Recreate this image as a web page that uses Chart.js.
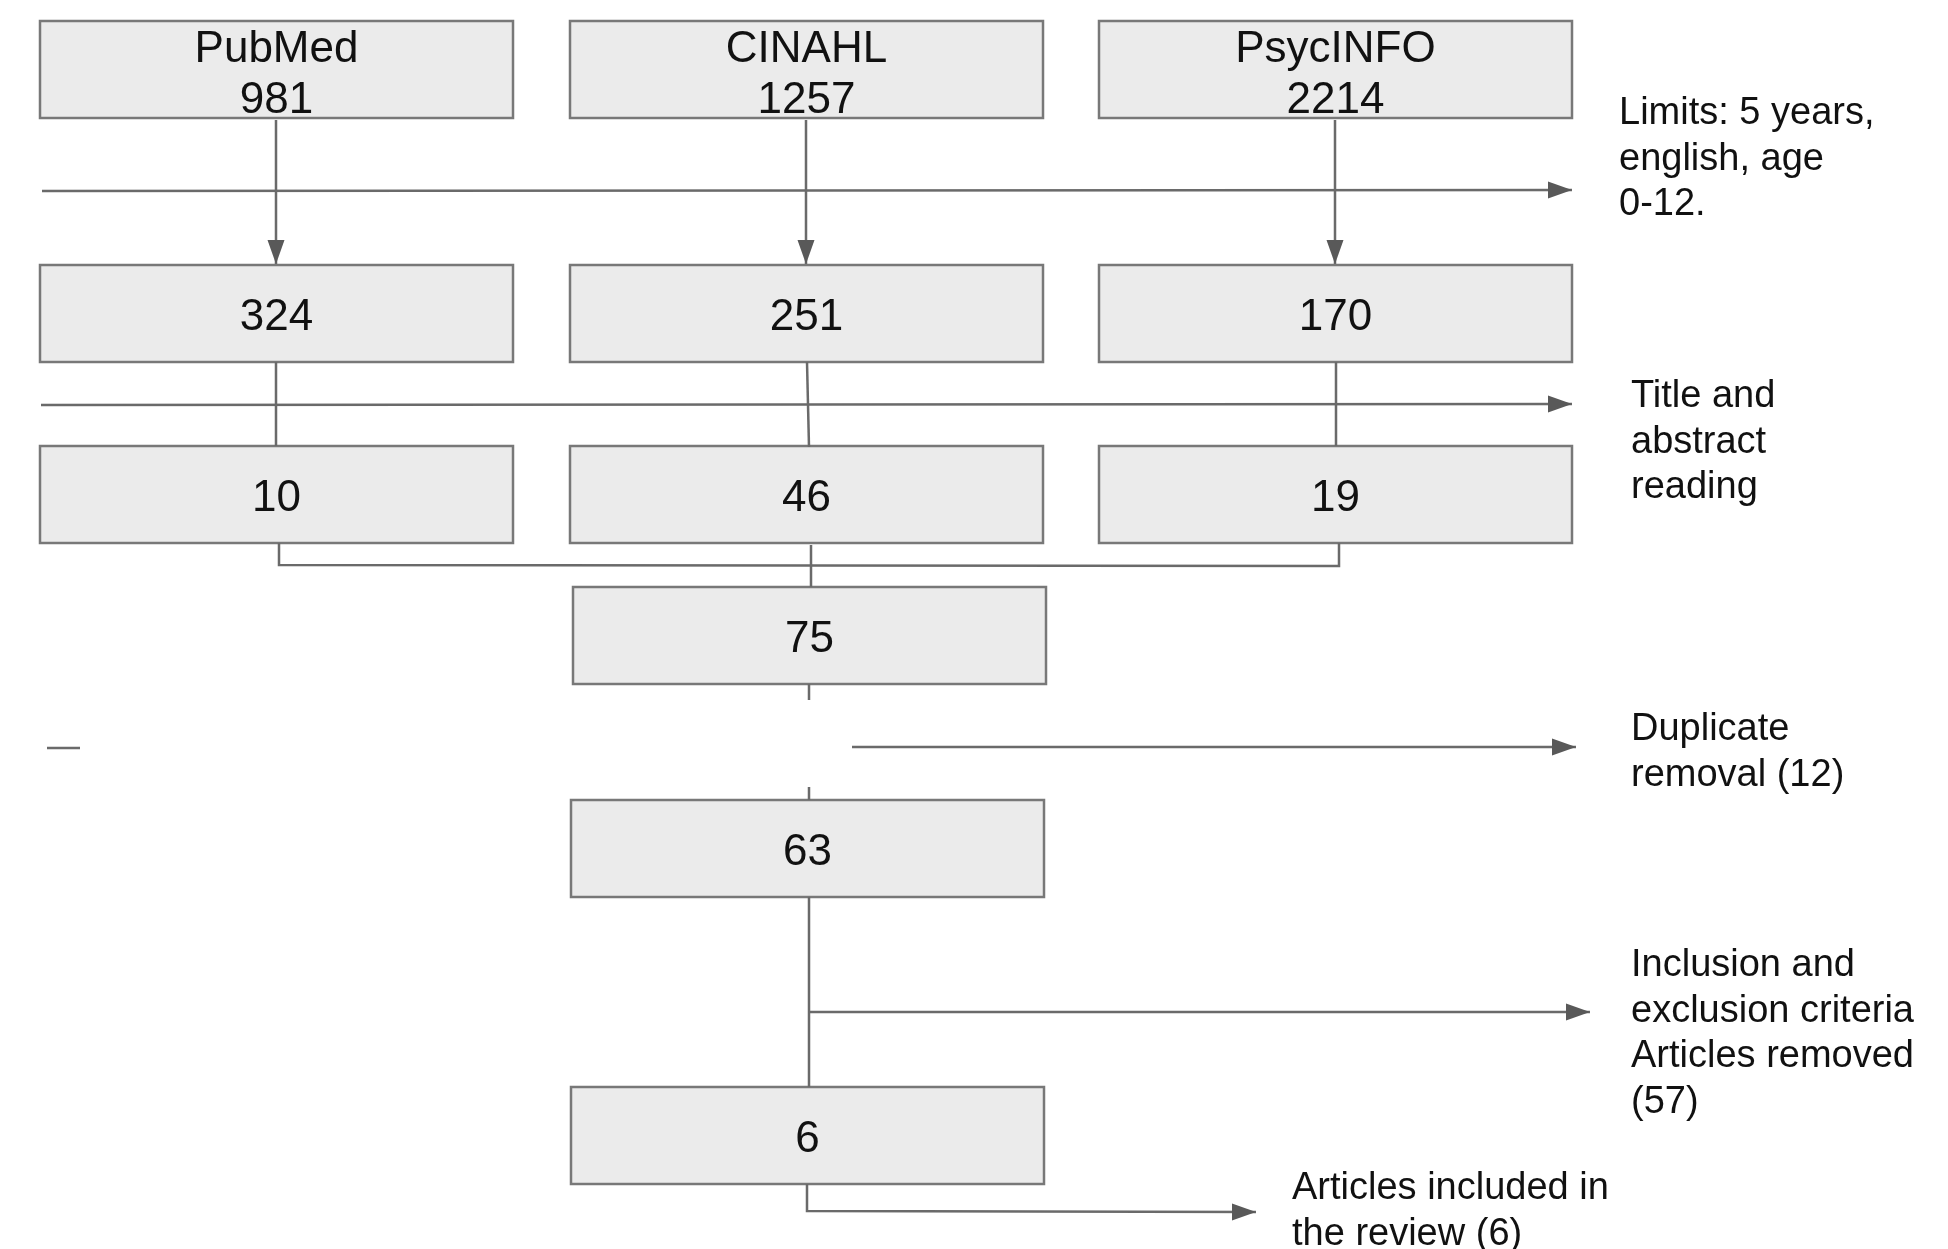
<!DOCTYPE html>
<html lang="en">
<head>
    <meta charset="UTF-8">
    <title>Search flow</title>
    <script src="https://cdn.jsdelivr.net/npm/chart.js"></script>
    <style>
        html, body {
            margin: 0;
            padding: 0;
            background: #ffffff;
            overflow: hidden;
        }
        #wrap {
            width: 1948px;
            height: 1249px;
        }
    </style>
</head>
<body>
    <div id="wrap"><canvas id="flowChart" width="1948" height="1249"></canvas></div>

    <script>
        // data
        const sources = ['PubMed', 'CINAHL', 'PsycINFO'];
        const identified = [981, 1257, 2214];
        const afterLimits = [324, 251, 170];
        const afterScreening = [10, 46, 19];
        const merged = [75];
        const afterDuplicates = [63];
        const included = [6];

        const noteLimits = ['Limits: 5 years,', 'english, age', '0-12.'];
        const noteScreening = ['Title and', 'abstract', 'reading'];
        const noteDuplicates = ['Duplicate', 'removal (12)'];
        const noteCriteria = ['Inclusion and', 'exclusion criteria', 'Articles removed', '(57)'];
        const noteIncluded = ['Articles included in', 'the review (6)'];

        // layout in scale units (the scales run 0..1948 and 0..1249)
        const colLeft = [40, 570, 1099];
        const boxW = 473;
        const boxH = 97;
        const rowTop = [21, 265, 446];
        const midLeft = 571;
        const midTop = [587, 800, 1087];

        const boxes = [];
        sources.forEach((s, i) => {
            boxes.push({x: colLeft[i], y: rowTop[0], lines: [s, String(identified[i])]});
            boxes.push({x: colLeft[i], y: rowTop[1], lines: [String(afterLimits[i])]});
            boxes.push({x: colLeft[i], y: rowTop[2], lines: [String(afterScreening[i])]});
        });
        boxes.push({x: midLeft + 2, y: midTop[0], lines: [String(merged[0])]});
        boxes.push({x: midLeft, y: midTop[1], lines: [String(afterDuplicates[0])]});
        boxes.push({x: midLeft, y: midTop[2], lines: [String(included[0])]});

        const notes = [
            {x: 1619, y: 114, lines: noteLimits},
            {x: 1631, y: 397, lines: noteScreening},
            {x: 1631, y: 730, lines: noteDuplicates},
            {x: 1631, y: 966, lines: noteCriteria},
            {x: 1292, y: 1189, lines: noteIncluded}
        ];

        const connectors = [
            {pts: [[276, 120], [276, 264]], arrow: true},
            {pts: [[806, 120], [806, 264]], arrow: true},
            {pts: [[1335, 120], [1335, 264]], arrow: true},
            {pts: [[42, 191], [1572, 190]], arrow: true},
            {pts: [[276, 362], [276, 446]]},
            {pts: [[807, 362], [809, 447]]},
            {pts: [[1336, 362], [1336, 446]]},
            {pts: [[41, 405], [1572, 404]], arrow: true},
            {pts: [[279, 543], [279, 565], [1339, 566], [1339, 543]]},
            {pts: [[811, 545], [811, 587]]},
            {pts: [[809, 684], [809, 700]]},
            {pts: [[47, 748], [80, 748]]},
            {pts: [[852, 747], [1576, 747]], arrow: true},
            {pts: [[809, 787], [809, 800]]},
            {pts: [[809, 897], [809, 1087]]},
            {pts: [[809, 1012], [1590, 1012]], arrow: true},
            {pts: [[807, 1184], [807, 1211], [1256, 1212]], arrow: true}
        ];

        const lineColor = '#6a6a6a';
        const font = "'Liberation Sans', Arial, sans-serif";

        const flowPlugin = {
            id: 'flow',
            beforeDatasetsDraw(chart) {
                const ctx = chart.ctx;
                const xs = chart.scales.x;
                const ys = chart.scales.y;
                ctx.save();
                boxes.forEach(b => {
                    const x0 = xs.getPixelForValue(b.x);
                    const x1 = xs.getPixelForValue(b.x + boxW);
                    const y0 = ys.getPixelForValue(b.y);
                    const y1 = ys.getPixelForValue(b.y + boxH);
                    ctx.fillStyle = '#ebebeb';
                    ctx.fillRect(x0, y0, x1 - x0, y1 - y0);
                    ctx.strokeStyle = '#787878';
                    ctx.lineWidth = 2.5;
                    ctx.strokeRect(x0, y0, x1 - x0, y1 - y0);
                    ctx.fillStyle = '#111111';
                    ctx.font = '44px ' + font;
                    ctx.textAlign = 'center';
                    ctx.textBaseline = 'alphabetic';
                    const cx = (x0 + x1) / 2;
                    if (b.lines.length === 2) {
                        ctx.fillText(b.lines[0], cx, ys.getPixelForValue(b.y + 41));
                        ctx.fillText(b.lines[1], cx, ys.getPixelForValue(b.y + 92));
                    } else {
                        ctx.fillText(b.lines[0], cx, ys.getPixelForValue(b.y + 65));
                    }
                });
                ctx.restore();
            },
            afterDatasetsDraw(chart) {
                const ctx = chart.ctx;
                const xs = chart.scales.x;
                const ys = chart.scales.y;
                ctx.save();
                // arrow heads at the end of flagged connectors
                chart.data.datasets.forEach(ds => {
                    if (!ds.arrow) return;
                    const n = ds.data.length;
                    const a = ds.data[n - 2], b = ds.data[n - 1];
                    const ax = xs.getPixelForValue(a.x), ay = ys.getPixelForValue(a.y);
                    const bx = xs.getPixelForValue(b.x), by = ys.getPixelForValue(b.y);
                    const ang = Math.atan2(by - ay, bx - ax);
                    const len = 24, half = 8.5;
                    ctx.fillStyle = '#595959';
                    ctx.beginPath();
                    ctx.moveTo(bx, by);
                    ctx.lineTo(bx - len * Math.cos(ang) + half * Math.sin(ang), by - len * Math.sin(ang) - half * Math.cos(ang));
                    ctx.lineTo(bx - len * Math.cos(ang) - half * Math.sin(ang), by - len * Math.sin(ang) + half * Math.cos(ang));
                    ctx.closePath();
                    ctx.fill();
                });
                // side notes
                ctx.fillStyle = '#111111';
                ctx.font = '38px ' + font;
                ctx.textAlign = 'left';
                ctx.textBaseline = 'middle';
                notes.forEach(nt => {
                    nt.lines.forEach((t, i) => {
                        ctx.fillText(t, xs.getPixelForValue(nt.x), ys.getPixelForValue(nt.y + i * 45.5));
                    });
                });
                ctx.restore();
            }
        };

        const datasets = connectors.map(c => ({
            type: 'line',
            data: c.pts.map(p => ({x: p[0], y: p[1]})),
            arrow: !!c.arrow,
            borderColor: lineColor,
            borderWidth: 2.5,
            pointRadius: 0,
            fill: false,
            tension: 0
        }));

        new Chart(document.getElementById('flowChart').getContext('2d'), {
            type: 'line',
            data: {datasets: datasets},
            options: {
                responsive: false,
                animation: false,
                devicePixelRatio: 1,
                layout: {padding: 0},
                parsing: false,
                scales: {
                    x: {type: 'linear', min: 0, max: 1948, display: false},
                    y: {type: 'linear', min: 0, max: 1249, reverse: true, display: false}
                },
                plugins: {
                    legend: {display: false},
                    tooltip: {enabled: false}
                }
            },
            plugins: [flowPlugin]
        });
    </script>
</body>
</html>
